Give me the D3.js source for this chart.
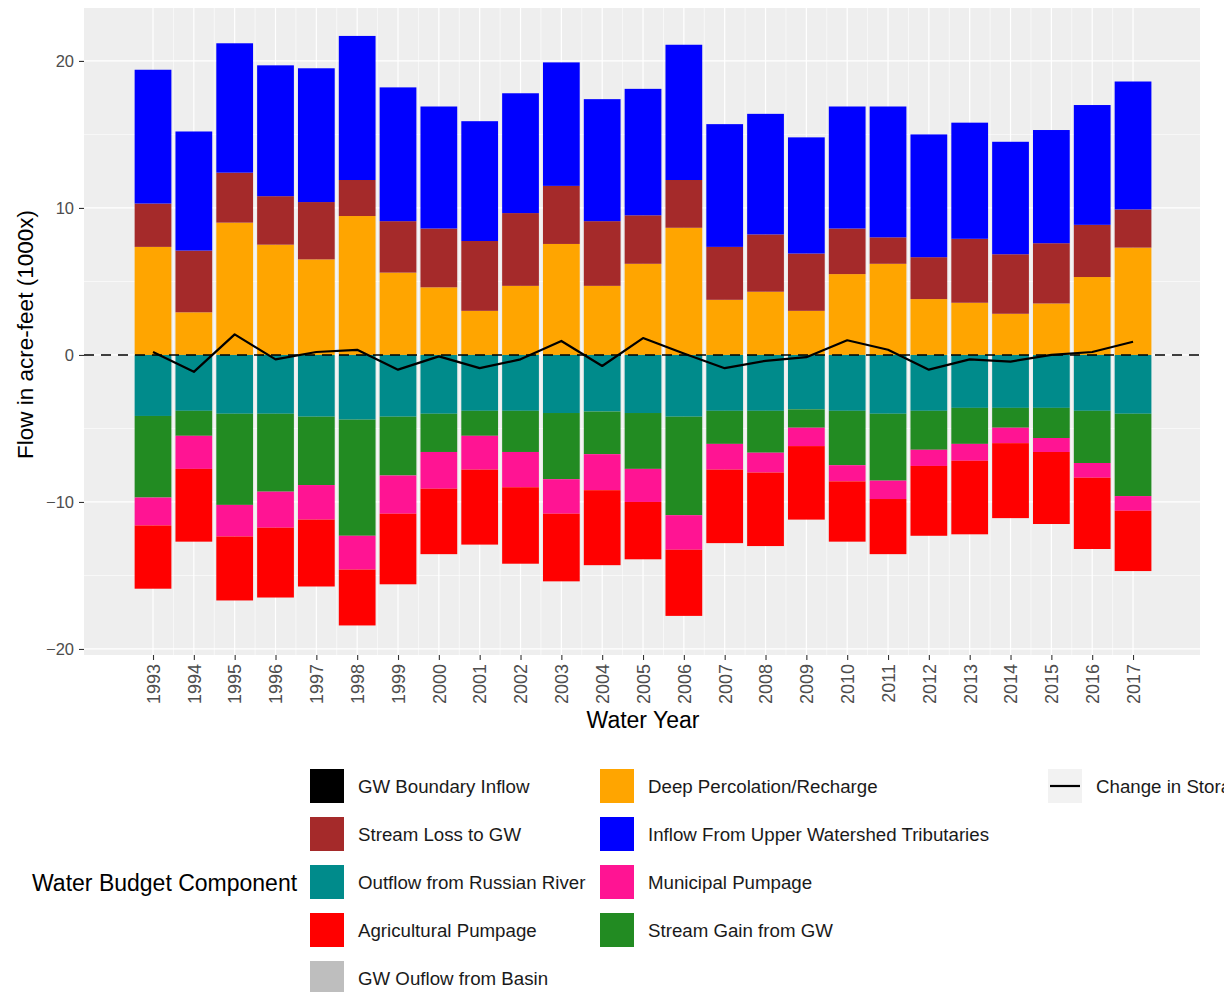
<!DOCTYPE html>
<html>
<head>
<meta charset="utf-8">
<script src="https://cdn.jsdelivr.net/npm/d3@7"></script>
<style>
  body { margin: 0; background: #ffffff; overflow: hidden; }
  text { font-family: "Liberation Sans", Arial, Helvetica, sans-serif; }
</style>
</head>
<body>
<svg id="chart" width="1224" height="992"></svg>
<script>
// ---------------- DATA (thousand acre-feet) ----------------
const years = [1993, 1994, 1995, 1996, 1997, 1998, 1999, 2000, 2001, 2002, 2003, 2004, 2005,
               2006, 2007, 2008, 2009, 2010, 2011, 2012, 2013, 2014, 2015, 2016, 2017];

// inflows (positive)
const deepPercolation = [7.35, 2.9, 9.0, 7.5, 6.5, 9.45, 5.6, 4.6, 3.0, 4.7, 7.55, 4.7, 6.2,
                         8.65, 3.75, 4.3, 3.0, 5.5, 6.2, 3.8, 3.55, 2.8, 3.5, 5.3, 7.3];
const streamLoss = [2.95, 4.2, 3.4, 3.3, 3.9, 2.45, 3.5, 4.0, 4.75, 4.95, 3.95, 4.4, 3.3,
                    3.25, 3.6, 3.9, 3.9, 3.1, 1.8, 2.85, 4.35, 4.05, 4.1, 3.55, 2.6];
const inflowUpper = [9.1, 8.1, 8.8, 8.9, 9.1, 9.8, 9.1, 8.3, 8.15, 8.15, 8.4, 8.3, 8.6,
                     9.2, 8.35, 8.2, 7.9, 8.3, 8.9, 8.35, 7.9, 7.65, 7.7, 8.15, 8.7];
const gwBoundaryInflow = [0, 0, 0, 0, 0, 0, 0, 0, 0, 0, 0, 0, 0, 0, 0, 0, 0, 0, 0, 0, 0, 0, 0, 0, 0];

// outflows (negative)
const outflowRussian = [-4.15, -3.8, -4.0, -4.0, -4.2, -4.4, -4.2, -4.0, -3.8, -3.8, -3.95, -3.85, -3.95,
                        -4.2, -3.8, -3.8, -3.7, -3.8, -4.0, -3.8, -3.6, -3.6, -3.6, -3.8, -4.0];
const streamGain = [-5.55, -1.7, -6.2, -5.3, -4.65, -7.9, -4.0, -2.6, -1.7, -2.8, -4.5, -2.9, -3.8,
                    -6.7, -2.25, -2.85, -1.25, -3.7, -4.55, -2.65, -2.45, -1.35, -2.05, -3.55, -5.6];
const municipalPumpage = [-1.9, -2.25, -2.15, -2.45, -2.35, -2.3, -2.6, -2.5, -2.3, -2.4, -2.35, -2.45, -2.25,
                          -2.35, -1.75, -1.35, -1.25, -1.1, -1.25, -1.1, -1.15, -1.05, -0.95, -1.0, -1.0];
const agriculturalPumpage = [-4.3, -4.95, -4.35, -4.75, -4.55, -3.8, -4.8, -4.45, -5.1, -5.2, -4.6, -5.1, -3.9,
                             -4.5, -5.0, -5.0, -5.0, -4.1, -3.75, -4.75, -5.0, -5.1, -4.9, -4.85, -4.1];
const gwOutflowBasin = [0, 0, 0, 0, 0, 0, 0, 0, 0, 0, 0, 0, 0, 0, 0, 0, 0, 0, 0, 0, 0, 0, 0, 0, 0];

// change in storage (line)
const changeInStorage = [0.2, -1.15, 1.4, -0.3, 0.2, 0.35, -1.0, -0.1, -0.9, -0.3, 0.95, -0.75, 1.15,
                         0.1, -0.9, -0.4, -0.15, 1.0, 0.35, -1.0, -0.3, -0.45, 0.0, 0.2, 0.9];

const yTicks = [-20, -10, 0, 10, 20];
const yMinorTicks = [-15, -5, 5, 15];

// legend order (column-wise, 5 rows)
const legendLabels = ["GW Boundary Inflow", "Stream Loss to GW", "Outflow from Russian River",
  "Agricultural Pumpage", "GW Ouflow from Basin", "Deep Percolation/Recharge",
  "Inflow From Upper Watershed Tributaries", "Municipal Pumpage", "Stream Gain from GW"];
const legendColors = ["#000000", "#A52A2A", "#008B8B", "#FF0000", "#BEBEBE",
  "#FFA500", "#0000FF", "#FF1493", "#228B22"];

// ---------------- BUILD TABLE ----------------
const seriesDefs = [
  { key: "Deep Percolation/Recharge", values: deepPercolation },
  { key: "Stream Loss to GW", values: streamLoss },
  { key: "Inflow From Upper Watershed Tributaries", values: inflowUpper },
  { key: "GW Boundary Inflow", values: gwBoundaryInflow },
  { key: "Outflow from Russian River", values: outflowRussian },
  { key: "Stream Gain from GW", values: streamGain },
  { key: "Municipal Pumpage", values: municipalPumpage },
  { key: "Agricultural Pumpage", values: agriculturalPumpage },
  { key: "GW Ouflow from Basin", values: gwOutflowBasin }
];
const rows = years.map((y, i) => {
  const r = { year: y };
  seriesDefs.forEach(s => r[s.key] = s.values[i]);
  return r;
});
const color = d3.scaleOrdinal().domain(legendLabels).range(legendColors);

// ---------------- LAYOUT ----------------
const panel = { left: 84, right: 1200, top: 8, bottom: 655 };
const svg = d3.select("#chart");

const x = d3.scaleLinear()
  .domain([years[0] - 1.69, years[years.length - 1] + 1.64])
  .range([panel.left, panel.right]);
const step = x(years[1]) - x(years[0]);
const barW = step * 0.9;

const y = d3.scaleLinear()
  .domain([-20.41, 23.6])
  .range([panel.bottom, panel.top]);

// panel background
svg.append("rect")
  .attr("x", panel.left).attr("y", panel.top)
  .attr("width", panel.right - panel.left).attr("height", panel.bottom - panel.top)
  .attr("fill", "#EEEEEE");

// grid
const grid = svg.append("g");
grid.selectAll(".ymin").data(yMinorTicks).join("line")
  .attr("x1", panel.left).attr("x2", panel.right)
  .attr("y1", d => y(d)).attr("y2", d => y(d))
  .attr("stroke", "#ffffff").attr("stroke-width", 0.6);
grid.selectAll(".xmin").data(years.slice(0, -1)).join("line")
  .attr("x1", d => x(d + 0.5)).attr("x2", d => x(d + 0.5))
  .attr("y1", panel.top).attr("y2", panel.bottom)
  .attr("stroke", "#ffffff").attr("stroke-width", 0.6);
grid.selectAll(".ymaj").data(yTicks).join("line")
  .attr("x1", panel.left).attr("x2", panel.right)
  .attr("y1", d => y(d)).attr("y2", d => y(d))
  .attr("stroke", "#ffffff").attr("stroke-width", 1.2);
grid.selectAll(".xmaj").data(years).join("line")
  .attr("x1", d => x(d)).attr("x2", d => x(d))
  .attr("y1", panel.top).attr("y2", panel.bottom)
  .attr("stroke", "#ffffff").attr("stroke-width", 1.2);

// stacked bars
const stack = d3.stack()
  .keys(seriesDefs.map(s => s.key))
  .offset(d3.stackOffsetDiverging);
const stacked = stack(rows);

svg.append("g").selectAll("g").data(stacked).join("g")
  .attr("fill", d => color(d.key))
  .selectAll("rect").data(d => d.filter(p => p[1] !== p[0])).join("rect")
  .attr("x", d => x(d.data.year) - barW / 2)
  .attr("width", barW)
  .attr("y", d => y(Math.max(d[0], d[1])))
  .attr("height", d => Math.abs(y(d[0]) - y(d[1])));

// zero dashed line
svg.append("line")
  .attr("x1", panel.left).attr("x2", panel.right)
  .attr("y1", y(0)).attr("y2", y(0))
  .attr("stroke", "#000").attr("stroke-width", 1.6)
  .attr("stroke-dasharray", "10,7");

// change in storage line
svg.append("path")
  .datum(years.map((yr, i) => [yr, changeInStorage[i]]))
  .attr("fill", "none").attr("stroke", "#000").attr("stroke-width", 2.2)
  .attr("stroke-linejoin", "round")
  .attr("d", d3.line().x(d => x(d[0])).y(d => y(d[1])));

// axes
const yAxis = d3.axisLeft(y).tickValues(yTicks).tickSize(5).tickPadding(5)
  .tickFormat(d => d < 0 ? "\u2212" + Math.abs(d) : String(d));
const gy = svg.append("g").attr("transform", `translate(${panel.left},0)`).call(yAxis);
gy.select(".domain").remove();
gy.selectAll(".tick line").attr("stroke", "#333333").attr("stroke-width", 1.1);
gy.selectAll(".tick text").attr("fill", "#4D4D4D").style("font-size", "16.5px")
  .style("font-family", "'Liberation Sans', Arial, sans-serif");

const xAxis = d3.axisBottom(x).tickValues(years).tickSize(5).tickFormat(d3.format("d"));
const gx = svg.append("g").attr("transform", `translate(0,${panel.bottom})`).call(xAxis);
gx.select(".domain").remove();
gx.selectAll(".tick line").attr("stroke", "#333333").attr("stroke-width", 1.1);
gx.selectAll(".tick text")
  .attr("fill", "#4D4D4D").style("font-size", "18px")
  .style("font-family", "'Liberation Sans', Arial, sans-serif")
  .attr("text-anchor", "end")
  .attr("transform", "translate(0,9) rotate(-90)")
  .attr("x", 0).attr("y", 0).attr("dy", "0.35em");

// axis titles
svg.append("text")
  .attr("x", 643).attr("y", 728)
  .attr("text-anchor", "middle").attr("fill", "#000")
  .style("font-size", "23px").text("Water Year");

svg.append("text")
  .attr("transform", `translate(33,${(panel.top + panel.bottom) / 2 + 3}) rotate(-90)`)
  .attr("text-anchor", "middle").attr("fill", "#000")
  .style("font-size", "22.5px").text("Flow in acre-feet (1000x)");

// legend
const legend = svg.append("g");
legend.append("text")
  .attr("x", 32).attr("y", 891).attr("fill", "#000")
  .style("font-size", "23px").text("Water Budget Component");

const rowY = [786, 834, 882, 930, 978];
const colX = [310, 600];
const keySize = 34;
legendLabels.forEach((lab, i) => {
  const col = Math.floor(i / 5), row = i % 5;
  const g = legend.append("g");
  g.append("rect")
    .attr("x", colX[col]).attr("y", rowY[row] - keySize / 2)
    .attr("width", keySize).attr("height", keySize)
    .attr("fill", color(lab));
  g.append("text")
    .attr("x", colX[col] + 48).attr("y", rowY[row] + 6.5)
    .attr("fill", "#1a1a1a").style("font-size", "18.7px").text(lab);
});

// line legend
const lg = legend.append("g");
lg.append("rect")
  .attr("x", 1048).attr("y", rowY[0] - keySize / 2)
  .attr("width", keySize).attr("height", keySize).attr("fill", "#F2F2F2");
lg.append("line")
  .attr("x1", 1050).attr("x2", 1080).attr("y1", rowY[0]).attr("y2", rowY[0])
  .attr("stroke", "#000").attr("stroke-width", 2.2);
lg.append("text")
  .attr("x", 1096).attr("y", rowY[0] + 6.5)
  .attr("fill", "#1a1a1a").style("font-size", "18.7px").text("Change in Storage");
</script>
</body>
</html>
